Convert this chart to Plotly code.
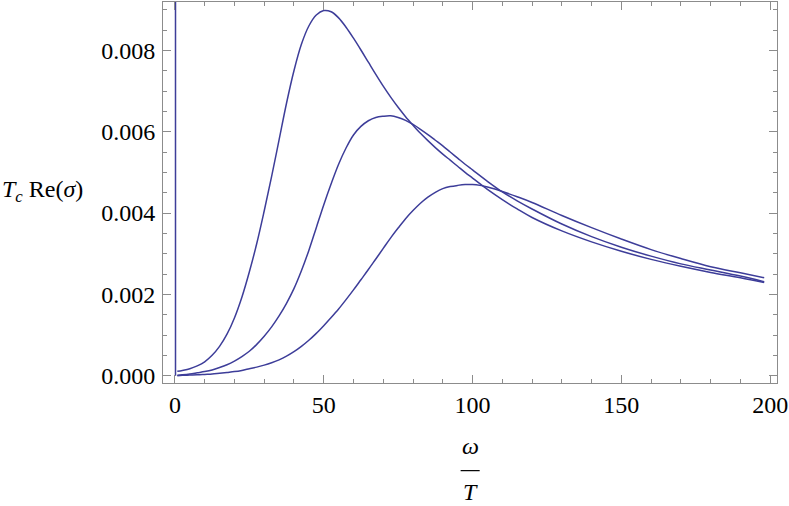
import plotly.graph_objects as go

# omega / T sample points and T_c Re(sigma) values (x1e-3)
x_a = [0.8, 2.5, 5, 7.5, 10, 12.5, 15, 17.5, 20, 22.5, 25, 27.5, 30, 32.5, 35, 37.5,
       40, 42.5, 45, 47.5, 50, 52.5, 55, 57.5, 60, 62.5, 65, 67.5, 70, 72.5, 75,
       77.5, 80, 82.5, 85, 87.5, 90, 92.5, 95, 97.5, 100, 105, 110, 115, 120, 130,
       140, 150, 160, 170, 180, 190, 198]
y_a = [0.11, 0.13, 0.17, 0.24, 0.34, 0.5, 0.72, 1.02, 1.42, 1.93, 2.55, 3.25, 4.05,
       4.9, 5.8, 6.7, 7.5, 8.15, 8.6, 8.87, 8.98, 8.95, 8.8, 8.57, 8.3, 8.01, 7.71,
       7.41, 7.12, 6.85, 6.6, 6.37, 6.16, 5.96, 5.78, 5.61, 5.45, 5.3, 5.15, 5.0,
       4.86, 4.58, 4.33, 4.1, 3.89, 3.56, 3.29, 3.06, 2.86, 2.69, 2.54, 2.41, 2.29]

x_b = [0.8, 2.5, 5, 7.5, 10, 12.5, 15, 17.5, 20, 22.5, 25, 27.5, 30, 32.5, 35, 37.5,
       40, 42.5, 45, 47.5, 50, 52.5, 55, 57.5, 60, 62.5, 65, 67.5, 70, 72.5, 75,
       77.5, 80, 82.5, 85, 87.5, 90, 92.5, 95, 97.5, 100, 105, 110, 115, 120, 130,
       140, 150, 160, 170, 180, 190, 198]
y_b = [0.01, 0.02, 0.04, 0.07, 0.1, 0.14, 0.2, 0.27, 0.36, 0.47, 0.6, 0.77, 0.97,
       1.2, 1.47, 1.78, 2.14, 2.58, 3.08, 3.64, 4.2, 4.72, 5.2, 5.6, 5.92, 6.13,
       6.27, 6.35, 6.38, 6.39, 6.35, 6.28, 6.18, 6.06, 5.93, 5.79, 5.65, 5.5, 5.35,
       5.2, 5.06, 4.78, 4.52, 4.3, 4.1, 3.73, 3.42, 3.16, 2.94, 2.75, 2.6, 2.45, 2.31]

x_c = [0.8, 2.5, 5, 7.5, 10, 12.5, 15, 17.5, 20, 22.5, 25, 27.5, 30, 32.5, 35, 37.5,
       40, 42.5, 45, 47.5, 50, 52.5, 55, 57.5, 60, 62.5, 65, 67.5, 70, 72.5, 75,
       77.5, 80, 82.5, 85, 87.5, 90, 92.5, 95, 97.5, 100, 102.5, 105, 107.5, 110,
       115, 120, 130, 140, 150, 160, 170, 180, 190, 198]
y_c = [0.0, 0.01, 0.015, 0.02, 0.03, 0.04, 0.06, 0.08, 0.1, 0.13, 0.17, 0.21, 0.26,
       0.32, 0.39, 0.48, 0.59, 0.72, 0.87, 1.04, 1.23, 1.43, 1.64, 1.87, 2.11, 2.36,
       2.61, 2.87, 3.13, 3.39, 3.63, 3.86, 4.06, 4.24, 4.39, 4.51, 4.6, 4.65, 4.68,
       4.7, 4.7, 4.68, 4.64, 4.59, 4.53, 4.4, 4.26, 3.94, 3.64, 3.36, 3.1, 2.88,
       2.68, 2.53, 2.41]

# the spike at omega = 0
x_spike = [0.2, 0.2]
y_spike = [0.0, 12.0]

LINE = "#3D3D99"
FRAME = "#8C8C8C"
SERIF = "Liberation Serif, Times New Roman, serif"
FS = 24

fig = go.Figure()
for xs, ys in [(x_spike, y_spike), (x_a, y_a), (x_b, y_b), (x_c, y_c)]:
    fig.add_trace(go.Scatter(
        x=xs, y=[v / 1000 for v in ys],
        mode="lines",
        line=dict(color=LINE, width=1.5, shape="spline", smoothing=1.0),
        showlegend=False,
        hoverinfo="skip",
    ))

axis_common = dict(
    showgrid=False, zeroline=False,
    showline=True, linecolor=FRAME, linewidth=1, mirror="ticks",
    ticks="inside", ticklen=8, tickcolor=FRAME, tickwidth=1,
    tickfont=dict(family=SERIF, size=FS, color="black"),
    ticklabeloverflow="allow",
)

fig.update_layout(
    width=789, height=506,
    paper_bgcolor="white", plot_bgcolor="white",
    margin=dict(l=163, r=12, t=2, b=123, autoexpand=False),
    xaxis=dict(
        range=[-4, 202.3], tickvals=[0, 50, 100, 150, 200],
        minor=dict(dtick=10, tick0=0, ticks="inside", ticklen=4, tickcolor=FRAME),
        ticklabelstandoff=0,
        **axis_common,
    ),
    yaxis=dict(
        range=[-0.00018, 0.00919], tickvals=[0, 0.002, 0.004, 0.006, 0.008],
        tickformat=".3f",
        minor=dict(dtick=0.0005, tick0=0, ticks="inside", ticklen=4, tickcolor=FRAME),
        ticklabelstandoff=2,
        **axis_common,
    ),
)

# axis labels, Mathematica style
fig.add_annotation(
    text="<i>T</i><sub><i>c</i></sub> Re(<i>σ</i>)",
    xref="paper", yref="paper", x=-0.2654, y=0.505,
    xanchor="left", yanchor="middle", showarrow=False,
    font=dict(family=SERIF, size=FS, color="black"),
)
fig.add_annotation(
    text="<i>ω</i>", xref="x", yref="paper", x=99.2, y=-0.165,
    xanchor="center", yanchor="middle", showarrow=False,
    font=dict(family=SERIF, size=FS, color="black"),
)
fig.add_annotation(
    text="<i>T</i>", xref="x", yref="paper", x=99.2, y=-0.286,
    xanchor="center", yanchor="middle", showarrow=False,
    font=dict(family=SERIF, size=FS, color="black"),
)
fig.add_shape(
    type="line", xref="x", yref="paper", x0=96, x1=102.4, y0=-0.23, y1=-0.23,
    line=dict(color="black", width=1.2),
)

# the page body has a default 8px margin; drop it so the figure sits at (0, 0)
fig.write_html("out.html", config={"displayModeBar": False},
               post_script="document.body.style.margin='0';")
